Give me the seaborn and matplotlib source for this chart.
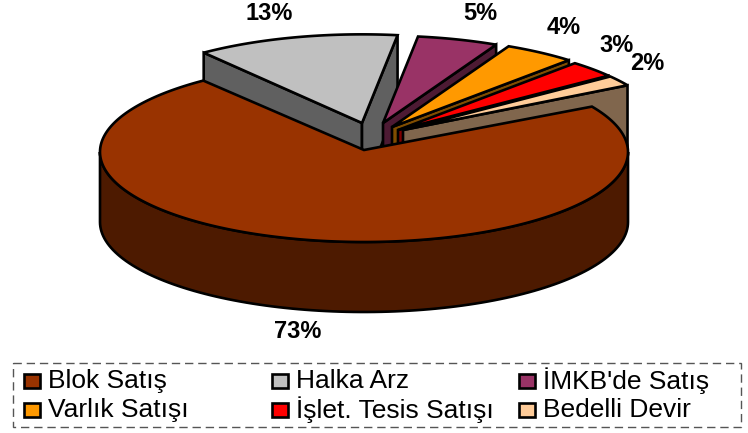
import numpy as np
import matplotlib
matplotlib.use("Agg")
import matplotlib.pyplot as plt
from matplotlib.patches import Polygon, Rectangle
import seaborn as sns

# ---- data ----
categories = ["Blok Satış", "Halka Arz", "İMKB'de Satış",
              "Varlık Satışı", "İşlet. Tesis Satışı", "Bedelli Devir"]
shares = [73.0, 12.6, 5.1, 4.4, 3.0, 1.9]
colors = ["#993300", "#C0C0C0", "#993366", "#FF9900", "#FF0000", "#FFCC99"]

# ---- layout / style ----
sns.set_theme(style="white")
plt.rcParams["font.family"] = ["Liberation Sans", "DejaVu Sans"]
palette = sns.color_palette(colors)

CX, CY, RX, RY, DEPTH = 364, 152, 264, 90, 70
START_DEG = 30.3
EXPLODE_DX = [0, -2, 19, 28, 34, 39]
EXPLODE_DY = [0, -29, -29, -25, -22, -22]
RADIUS_SCALE = [1, 0.985, 0.97, 1, 1, 0.985]
LABEL_X = [298, 269, 480, 564, 617, 647]
LABEL_Y = [331, 13, 13, 27, 45, 63]
LEG_COL_X = [24, 272, 519]
LEG_ROW_Y = [381, 410]
LW = 1.9

fig = plt.figure(figsize=(7.48, 4.33), dpi=100)
ax = fig.add_axes([0, 0, 1, 1])
ax.set_xlim(0, 748)
ax.set_ylim(433, 0)
ax.axis("off")


def poly(points, color, z):
    ax.add_patch(Polygon(points, closed=True, facecolor=color, edgecolor="black",
                         linewidth=LW, joinstyle="miter", zorder=z))


def darken(c):
    return tuple(v * 0.5 for v in c)


sweeps = np.array(shares) / sum(shares) * 360
# clockwise from START_DEG
angle_starts = START_DEG - np.concatenate([[0], np.cumsum(sweeps)[:-1]])
angle_ends = angle_starts - sweeps


def rim(theta_deg, i):
    t = np.radians(theta_deg)
    ax_c = CX + EXPLODE_DX[i]
    ax_y = CY + EXPLODE_DY[i]
    r = RADIUS_SCALE[i]
    return np.column_stack([ax_c + r * RX * np.cos(t), ax_y - r * RY * np.sin(t)])


z = 2
# back slices first, far left to right
for i in range(1, len(shares)):
    apex = np.array([CX + EXPLODE_DX[i], CY + EXPLODE_DY[i]], float)
    thetas = np.linspace(angle_starts[i], angle_ends[i], 40)  # clockwise: left -> right
    pts = rim(thetas, i)
    wall = darken(palette[i])
    drop = np.array([0, DEPTH])
    # left corner wall only for the slice whose left edge faces the viewer
    if i == 1:
        poly([apex, pts[0], pts[0] + drop, apex + drop], wall, z); z += 1
    poly([apex, pts[-1], pts[-1] + drop, apex + drop], wall, z); z += 1
    poly(np.vstack([apex, pts]), palette[i], z); z += 1

# main slice: outer wall then top
front = np.linspace(180, 360, 120)
fpts = rim(front, 0)
poly(np.vstack([fpts, (fpts + [0, DEPTH])[::-1]]), darken(palette[0]), z); z += 1
thetas = np.linspace(angle_starts[0], angle_ends[0], 300)
poly(np.vstack([[CX, CY - 2], rim(thetas, 0)]), palette[0], z); z += 1

# percentage labels
for i, s in enumerate(shares):
    ax.text(LABEL_X[i], LABEL_Y[i], f"{s:.0f}%", ha="center", va="center",
            fontsize=17, fontweight="bold", color="black", zorder=z)

# legend box
ax.add_patch(Rectangle((13, 363), 728, 64, fill=False, edgecolor="#555555",
                       linestyle=(0, (6, 3.5)), linewidth=1.0, zorder=z))
for i, name in enumerate(categories):
    x = LEG_COL_X[i % 3]
    y = LEG_ROW_Y[i // 3]
    ax.add_patch(Rectangle((x, y - 7), 16, 14, facecolor=palette[i], edgecolor="black",
                           linewidth=LW, zorder=z))
    ax.text(x + 24, y, name, ha="left", va="center", fontsize=19, color="black", zorder=z)

fig.savefig("out.png", dpi=100)
